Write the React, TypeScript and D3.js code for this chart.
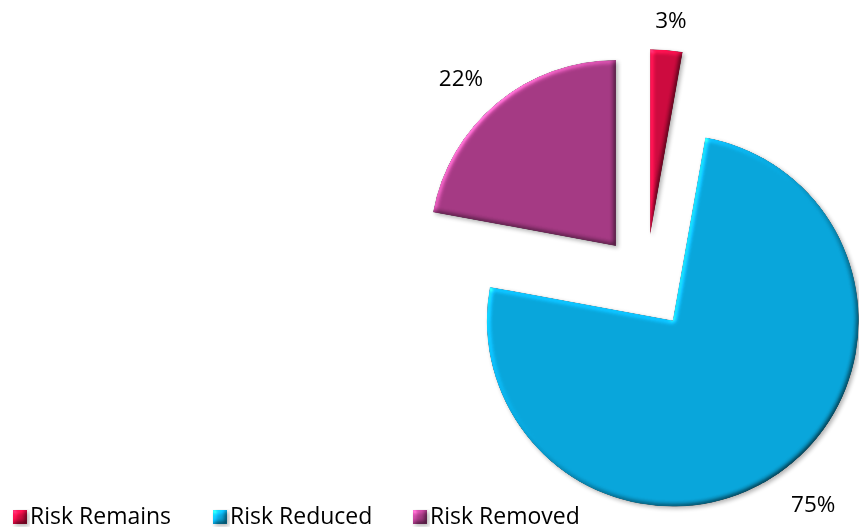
import React from "react";
import * as d3 from "d3";

const categories = ["Risk Remains", "Risk Reduced", "Risk Removed"];
const values = [2.8, 75.1, 22.1];
const colors = ["#CC0A3E", "#08A5DA", "#A43983"];

const W = 859;
const H = 531;
const CX = 646;
const CY = 282;
const R = 186;
const EXPLODE = 47;

export default function App() {
  const total = d3.sum(values);
  const pie = d3.pie<number>().sort(null).value((d) => d).startAngle(0).endAngle(2 * Math.PI);
  const arcs = pie(values);
  const arc = d3.arc<d3.PieArcDatum<number>>().innerRadius(0).outerRadius(R);
  const fmt = (v: number) => `${Math.round((v / total) * 100)}%`;

  return (
    <div style={{ position: "fixed", left: 0, top: 0 }}>
      <svg width={W} height={H} style={{ display: "block" }} fontFamily="'Open Sans', sans-serif">
        <defs>
          <filter id="bevel" x="-20%" y="-20%" width="140%" height="140%" colorInterpolationFilters="sRGB">
            <feGaussianBlur in="SourceAlpha" stdDeviation="2.5" result="b" />
            <feDiffuseLighting in="b" surfaceScale="1.4" diffuseConstant="1" lightingColor="#ffffff" result="diff">
              <feDistantLight azimuth={225} elevation={40} />
            </feDiffuseLighting>
            <feComposite in="SourceGraphic" in2="diff" operator="arithmetic" k1={1.556} k2={0} k3={0} k4={0} result="lit" />
            <feSpecularLighting in="b" surfaceScale="1.4" specularConstant="0.5" specularExponent="40" lightingColor="#ffffff" result="spec">
              <feDistantLight azimuth={225} elevation={40} />
            </feSpecularLighting>
            <feComposite in="spec" in2="SourceAlpha" operator="in" result="specIn" />
            <feComposite in="lit" in2="specIn" operator="arithmetic" k1={0} k2={1} k3={0.35} k4={0} result="lit2" />
            <feComposite in="lit2" in2="SourceAlpha" operator="in" result="shape" />
            <feGaussianBlur in="SourceAlpha" stdDeviation="2" result="sb" />
            <feOffset in="sb" dx="2" dy="2" result="so" />
            <feComponentTransfer in="so" result="shadow">
              <feFuncA type="linear" slope="0.3" />
            </feComponentTransfer>
            <feMerge>
              <feMergeNode in="shadow" />
              <feMergeNode in="shape" />
            </feMerge>
          </filter>
        </defs>
        {arcs.map((a, i) => {
          const mid = (a.startAngle + a.endAngle) / 2;
          const ux = Math.sin(mid);
          const uy = -Math.cos(mid);
          const sx = CX + ux * EXPLODE;
          const sy = CY + uy * EXPLODE;
          const label = fmt(a.data);
          const halfW = label.length * 7.3;
          const halfH = 10;
          const dist = R + 22;
          const ax = sx + ux * dist;
          const ay = sy + uy * dist;
          const kx = Math.max(-1, Math.min(1, ux / 0.5));
          const ky = Math.max(-1, Math.min(1, uy / 0.5));
          return (
            <g key={categories[i]}>
              <path d={arc(a) || ""} transform={`translate(${sx},${sy})`} fill={colors[i]} filter="url(#bevel)" />
              <text
                x={ax + kx * halfW}
                y={ay + ky * halfH + 1.5}
                textAnchor="middle"
                dominantBaseline="central"
                fontSize={22.5}
                fill="#000"
              >
                {label}
              </text>
            </g>
          );
        })}
        {categories.map((c, i) => (
          <g key={c} transform={`translate(${13 + i * 200},510)`}>
            <rect width={14} height={14} fill={colors[i]} filter="url(#bevel)" />
            <text x={17} y={14} fontSize={23} fill="#000">
              {c}
            </text>
          </g>
        ))}
      </svg>
    </div>
  );
}
